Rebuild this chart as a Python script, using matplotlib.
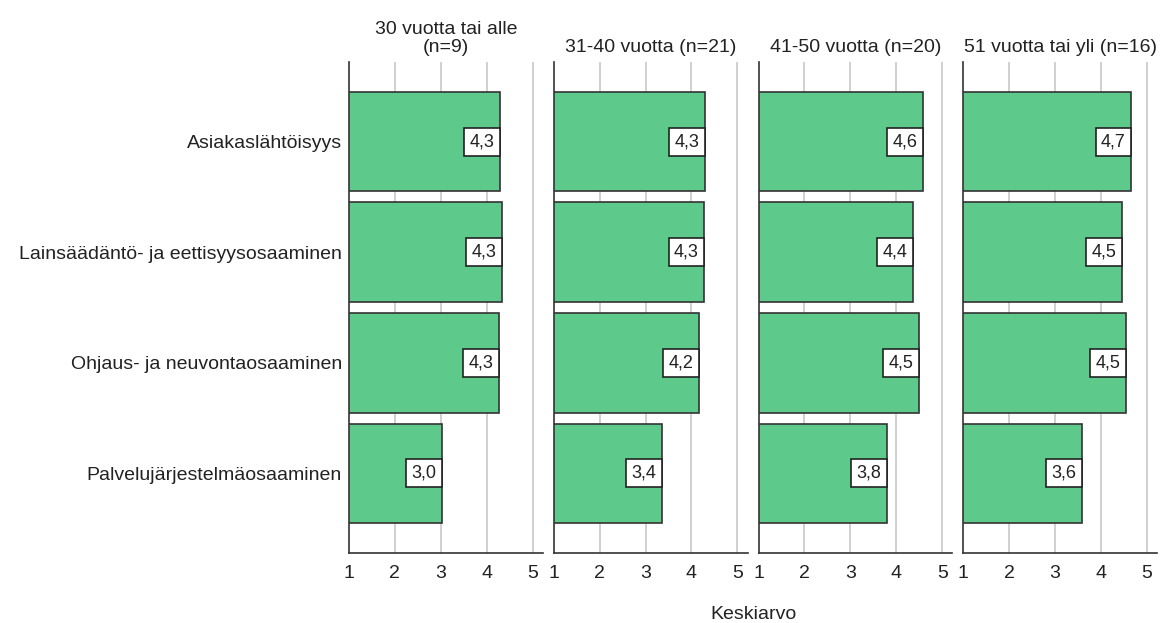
import matplotlib
matplotlib.use("Agg")
import matplotlib.pyplot as plt

plt.rcParams['font.family'] = ['Liberation Sans', 'DejaVu Sans']

categories = ["Asiakaslähtöisyys", "Lainsäädäntö- ja eettisyysosaaminen",
              "Ohjaus- ja neuvontaosaaminen", "Palvelujärjestelmäosaaminen"]
groups = ["30 vuotta tai alle\n(n=9)", "31-40 vuotta (n=21)",
          "41-50 vuotta (n=20)", "51 vuotta tai yli (n=16)"]
values_30 = [4.29, 4.34, 4.26, 3.02]
values_31_40 = [4.29, 4.28, 4.17, 3.36]
values_41_50 = [4.58, 4.36, 4.49, 3.80]
values_51 = [4.66, 4.46, 4.54, 3.58]
all_values = [values_30, values_31_40, values_41_50, values_51]
xticks = [1, 2, 3, 4, 5]
xlabel = "Keskiarvo"

bar_color = "#5dca8b"
text_color = "#222222"
fs = 14

fig, axes = plt.subplots(1, 4, figsize=(11.61, 6.23), dpi=100, sharey=True)
L, R, T, B = 0.3006, 0.9966, 0.9005, 0.1124
fig.subplots_adjust(left=L, right=R, top=T, bottom=B, wspace=0.057)

ypos = list(range(len(categories)))
for ax, title, vals in zip(axes, groups, all_values):
    ax.barh(ypos, [v - 1 for v in vals], left=1, height=0.9, color=bar_color,
            edgecolor="#333333", linewidth=1.2, zorder=3)
    for y, v in zip(ypos, vals):
        ax.annotate(f"{v:.1f}".replace(".", ","), xy=(v, y), xytext=(-4.0, 0),
                    textcoords="offset points", ha="right", va="center",
                    fontsize=13, color=text_color, zorder=5,
                    bbox=dict(boxstyle="square,pad=0.3", fc="white", ec="#222222", lw=1.2))
    ax.set_xlim(1, 5.22)
    ax.set_ylim(3.72, -0.72)
    ax.set_xticks(xticks)
    ax.set_xticklabels([str(t) for t in xticks], fontsize=fs, color=text_color)
    ax.tick_params(axis='both', length=0, pad=9)
    for xv in xticks[1:]:
        ax.axvline(xv, color="#c8c8c8", lw=1.2, zorder=1)
    for s in ["top", "right"]:
        ax.spines[s].set_visible(False)
    for s in ["left", "bottom"]:
        ax.spines[s].set_color("#333333")
        ax.spines[s].set_linewidth(1.2)
    ax.set_title(title, fontsize=fs, color=text_color, pad=7, linespacing=1.1)

axes[0].set_yticks(ypos)
axes[0].set_yticklabels(categories, fontsize=fs, color=text_color)
axes[0].tick_params(axis='y', pad=5)

fig.text((L + R) / 2, 0.0064, xlabel, ha="center", va="baseline",
         fontsize=fs, color=text_color)

fig.savefig("out.png", dpi=100)
